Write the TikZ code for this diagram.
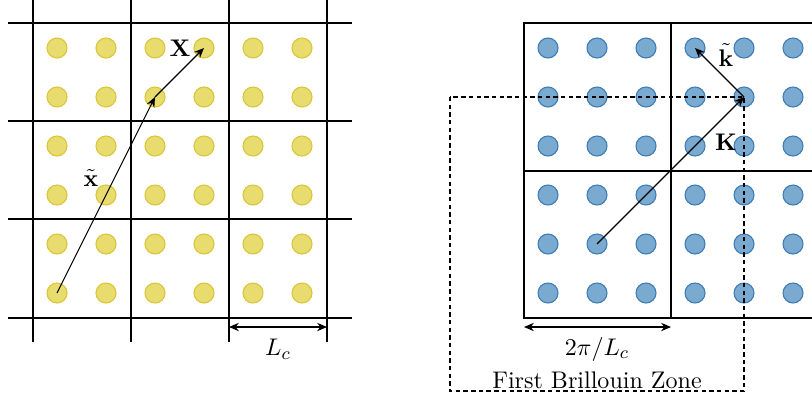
\documentclass[tikz,border=0pt,11pt]{standalone}
\usepackage{amsmath,amssymb}
\usepackage{xcolor}
\usepackage{tikz}
\usetikzlibrary{arrows.meta}
\definecolor{amarelo}{HTML}{E9DC6E}
\definecolor{amareloB}{HTML}{D9C63A}
\definecolor{azulP}{HTML}{7AAACF}
\definecolor{azulB}{HTML}{3E7DB5}

\tikzset{
  ydot/.style={circle, minimum size=20*0.016cm, inner sep=0pt, fill=amarelo, draw=amareloB, line width=0.5pt},
  bdot/.style={circle, minimum size=20*0.016cm, inner sep=0pt, fill=azulP, draw=azulB, line width=0.5pt},
  gridline/.style={line width=0.6pt},
  rotulo/.style={inner sep=0pt},
  vec/.style={-{Stealth[length=4.5pt,width=3.8pt]}, line width=0.5pt},
  medida/.style={{Stealth[length=4.5pt,width=3.8pt]}-{Stealth[length=4.5pt,width=3.8pt]}, line width=0.5pt},
}

\begin{document}
\begin{tikzpicture}[x=0.016cm, y=-0.016cm]
  \useasboundingbox (0,0) rectangle (812,398);
  \clip (0,0) rectangle (812,398);
  % espaco real
  \foreach \x in {33,131,229,327}{\draw[gridline] (\x,0) -- (\x,342);}
  \foreach \y in {23,121,219,318}{\draw[gridline] (8,\y) -- (352,\y);}
  \foreach \i in {0,...,5}{
    \foreach \j in {0,...,5}{
      \node[ydot] (y-\i-\j) at ({57+49*\i},{293-49*\j}) {};
    }
  }
  \draw[vec] (y-0-0.center) -- (y-2-4.center);
  \draw[vec] (y-2-4.center) -- (y-3-5.center);
  \node[rotulo] (lx) at (91,178) {$\tilde{\mathbf{x}}$};
  \node[rotulo] (lX) at (180,48) {$\mathbf{X}$};
  \coordinate (a1) at (229,327);
  \coordinate (a2) at (327,327);
  \draw[medida] (a1) -- (a2);
  \node[rotulo] (lL) at (278,349) {$L_c$};
  % espaco reciproco
  \draw[gridline] (524,23) rectangle (818,318);
  \draw[gridline] (671,23) -- (671,318);
  \draw[gridline] (524,171) -- (818,171);
  \foreach \i in {0,...,5}{
    \foreach \j in {0,...,5}{
      \node[bdot] (b-\i-\j) at ({548+49*\i},{293-49*\j}) {};
    }
  }
  \draw[line width=0.5pt, dash pattern=on 2pt off 1.5pt] (450,97) rectangle (744,391);
  \draw[vec] (b-1-1.center) -- (b-4-4.center);
  \draw[vec] (b-4-4.center) -- (b-3-5.center);
  \node[rotulo] (lk) at (726,55) {$\tilde{\mathbf{k}}$};
  \node[rotulo] (lK) at (726,142) {$\mathbf{K}$};
  \coordinate (b1) at (524,327);
  \coordinate (b2) at (671,327);
  \draw[medida] (b1) -- (b2);
  \node[rotulo] (l2pi) at (597,349) {$2\pi/L_c$};
  \node[rotulo] (lbz) at (597,380) {First Brillouin Zone};
\end{tikzpicture}
\end{document}
